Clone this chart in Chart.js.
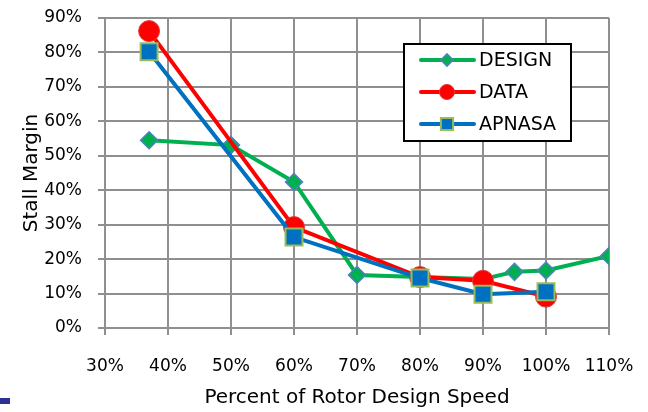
<!DOCTYPE html>
<html>
<head>
<meta charset="utf-8">
<script src="https://cdn.jsdelivr.net/npm/chart.js@4/dist/chart.umd.min.js"></script>
<style>
  html, body { margin: 0; padding: 0; background: #fff; }
  #wrap { position: relative; width: 648px; height: 412px; }
  #mark { position: absolute; left: 0; top: 398px; width: 10px; height: 6px; background: #2e3192; }
</style>
</head>
<body>
<div id="wrap">
  <canvas id="chart" width="648" height="412"></canvas>
  <div id="mark"></div>
</div>
<script>
// --- datos ---
const designSpeed  = [37, 50, 60, 70, 80, 90, 95, 100, 110];
const designMargin = [54.5, 53.1, 42.4, 15.4, 14.8, 14.2, 16.3, 16.7, 20.9];

const dataSpeed  = [37, 60, 80, 90, 100];
const dataMargin = [86.2, 29.3, 14.8, 13.7, 9.1];

const apnasaSpeed  = [37, 60, 80, 90, 100];
const apnasaMargin = [80.2, 26.4, 14.5, 9.8, 10.5];

const xTicks = [30, 40, 50, 60, 70, 80, 90, 100, 110];
const yTicks = [0, 10, 20, 30, 40, 50, 60, 70, 80, 90];

const FONT = "'DejaVu Sans', sans-serif";
const GRID = '#8f8f8f';

function toPoints(xs, ys) {
    return xs.map((x, i) => ({ x: x, y: ys[i] }));
}

// leyenda dibujada dentro del área del gráfico
const boxLegend = {
    id: 'boxLegend',
    afterDraw(chart) {
        const ctx = chart.ctx;
        const left = 404, top = 44, w = 167, h = 97;
        ctx.save();
        ctx.fillStyle = '#fff';
        ctx.fillRect(left, top, w, h);
        ctx.lineWidth = 2;
        ctx.strokeStyle = '#000';
        ctx.strokeRect(left, top, w, h);

        const rows = [60, 92, 124];
        chart.data.datasets.forEach((ds, i) => {
            const y = rows[i];
            ctx.lineWidth = ds.borderWidth;
            ctx.strokeStyle = ds.borderColor;
            ctx.lineCap = 'round';
            ctx.beginPath();
            ctx.moveTo(421, y);
            ctx.lineTo(474, y);
            ctx.stroke();

            ctx.fillStyle = ds.pointBackgroundColor;
            ctx.strokeStyle = ds.pointBorderColor;
            ctx.lineWidth = ds.pointBorderWidth;
            Chart.helpers.drawPoint(ctx, {
                pointStyle: ds.pointStyle,
                radius: ds.pointRadius * 0.72,
                rotation: 0,
                borderWidth: ds.pointBorderWidth
            }, 447, y);

            ctx.fillStyle = '#000';
            ctx.font = '19px ' + FONT;
            ctx.textBaseline = 'middle';
            ctx.textAlign = 'left';
            ctx.fillText(ds.label, 479, y + 1);
        });
        ctx.restore();
    }
};

new Chart(document.getElementById('chart'), {
    type: 'line',
    data: {
        datasets: [
            {
                label: 'DESIGN',
                data: toPoints(designSpeed, designMargin),
                borderColor: '#00b050',
                borderWidth: 4,
                pointStyle: 'rectRot',
                pointRadius: 8.5,
                pointBackgroundColor: '#00b050',
                pointBorderColor: '#4f81bd',
                pointBorderWidth: 1.5,
                order: 3
            },
            {
                label: 'DATA',
                data: toPoints(dataSpeed, dataMargin),
                borderColor: '#ff0000',
                borderWidth: 4,
                pointStyle: 'circle',
                pointRadius: 10.5,
                pointBackgroundColor: '#ff0000',
                pointBorderColor: '#e03c3c',
                pointBorderWidth: 1,
                order: 2
            },
            {
                label: 'APNASA',
                data: toPoints(apnasaSpeed, apnasaMargin),
                borderColor: '#0070c0',
                borderWidth: 4,
                pointStyle: 'rect',
                pointRadius: 12,
                pointBackgroundColor: '#0070c0',
                pointBorderColor: '#9bbb59',
                pointBorderWidth: 2,
                order: 1
            }
        ]
    },
    options: {
        responsive: false,
        animation: false,
        layout: { padding: { top: 18, right: 39, left: 0, bottom: 0 } },
        plugins: {
            legend: { display: false },
            tooltip: { enabled: false }
        },
        scales: {
            x: {
                type: 'linear',
                min: 30,
                max: 110,
                afterBuildTicks: (s) => { s.ticks = xTicks.map(v => ({ value: v })); },
                afterFit: (s) => {
                    s.height = 84;
                    s.paddingLeft = 0;
                    s.paddingRight = 0;
                },
                grid: { color: GRID, lineWidth: 2, tickLength: 7 },
                border: { color: GRID, width: 2 },
                ticks: {
                    color: '#000',
                    font: { family: FONT, size: 17 },
                    padding: 21,
                    maxRotation: 0,
                    callback: v => v + '%'
                },
                title: {
                    display: true,
                    text: 'Percent of Rotor Design Speed',
                    color: '#000',
                    font: { family: FONT, size: 20 },
                    padding: { top: 0, bottom: 2 }
                }
            },
            y: {
                min: 0,
                max: 90,
                afterBuildTicks: (s) => { s.ticks = yTicks.map(v => ({ value: v })); },
                afterFit: (s) => {
                    s.width = 105;
                    s.paddingTop = 0;
                    s.paddingBottom = 0;
                },
                grid: { color: GRID, lineWidth: 2, tickLength: 7 },
                border: { color: GRID, width: 2 },
                ticks: {
                    color: '#000',
                    font: { family: FONT, size: 17 },
                    padding: 16,
                    callback: v => v + '%'
                },
                title: {
                    display: true,
                    text: 'Stall Margin',
                    color: '#000',
                    font: { family: FONT, size: 20 },
                    padding: { top: 20, bottom: 0 }
                }
            }
        }
    },
    plugins: [boxLegend]
});
</script>
</body>
</html>
